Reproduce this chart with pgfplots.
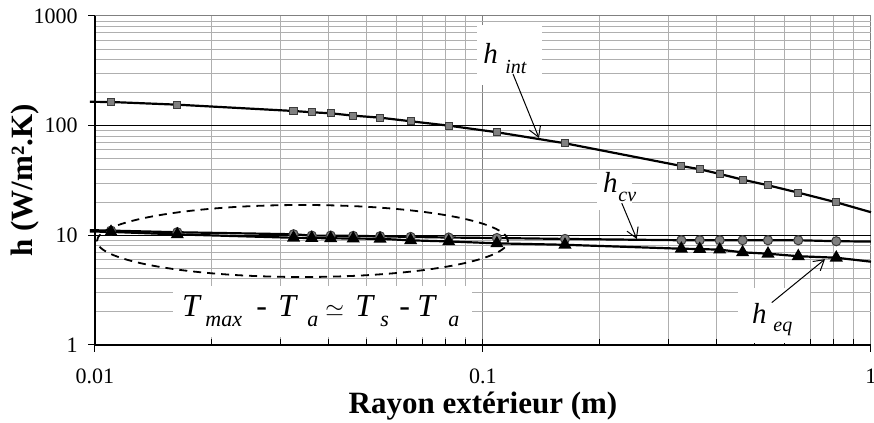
\documentclass[border=0pt]{standalone}
\usepackage{pgfplots}
\usepackage{pgfplotstable}
\pgfplotsset{compat=1.18}
\usepackage{fontspec}
\setmainfont{Liberation Serif}
\usetikzlibrary{arrows.meta}

\definecolor{markgray}{RGB}{128,128,128}
\definecolor{markedge}{RGB}{60,60,60}
\definecolor{majgrid}{RGB}{128,128,128}
\definecolor{mingrid}{RGB}{175,175,175}

\newcommand{\bigit}{\fontsize{16}{16}\selectfont\itshape}
\newcommand{\subit}{\fontsize{11}{11}\selectfont\itshape}
\newcommand{\hit}{\fontsize{14.5}{14.5}\selectfont\itshape}
\newcommand{\hsub}{\fontsize{10}{10}\selectfont\itshape}
\newcommand{\tickfont}{\fontsize{11}{11}\selectfont}

% x, h_int, h_cv, h_eq (first and last rows: ends of the curves, no marker)
\pgfplotstableread{
x       hint    hcv    heq
0.0097  165.0   11.15  10.85
0.011   164.4   11.04  10.75
0.0163  155.4   10.67  10.2
0.0325  136.1   10.23  9.5
0.0362  132.5   9.94   9.45
0.0405  129.7   9.94   9.4
0.0463  123.4   9.88   9.35
0.0543  118.3   9.81   9.3
0.0651  109.7   9.67   9.0
0.0816  100.0   9.55   8.8
0.1086  87.1    9.45   8.45
0.1627  69.1    9.27   8.2
0.3245  42.9    9.02   7.55
0.3619  40.05   9.02   7.5
0.4074  36.3    9.02   7.4
0.4668  32.2    9.02   7.0
0.5427  28.6    9.02   6.8
0.6496  24.5    9.02   6.45
0.8139  20.0    8.84   6.25
1.0     16.25   8.77   5.75
}\hdata

\begin{document}
\begin{tikzpicture}
\useasboundingbox (-47.5pt,-39pt) rectangle (389.5pt,172.5pt);
\begin{axis}[
  scale only axis, width=388pt, height=164.5pt,
  xmode=log, ymode=log,
  xmin=0.01, xmax=1, ymin=1, ymax=1000,
  xtick={0.01,0.1,1}, xticklabels={{\tickfont 0.01},{\tickfont 0.1},{\tickfont 1}},
  ytick={1,10,100,1000}, yticklabels={{\tickfont 1},{\tickfont 10},{\tickfont 100},{\tickfont 1000}},
  grid=both,
  major grid style={majgrid, line width=0.5pt},
  minor grid style={mingrid, line width=0.5pt},
  axis x line*=bottom, axis y line*=left,
  axis line style={black, line width=0.6pt, -},
  tick align=outside,
  major tick length=3.5pt, minor tick length=3pt,
  minor x tick style={yshift=3pt},
  minor y tick style={draw=none},
  tick style={black, line width=0.5pt},
  xticklabel style={anchor=base, yshift=-16pt},
  yticklabel style={anchor=east, inner sep=0pt, xshift=-5pt},
  xlabel={Rayon extérieur (m)},
  ylabel={h (W/m².K)},
  label style={font=\fontsize{15.5}{15.5}\selectfont\bfseries},
  xlabel style={at={(axis description cs:0.5,-0.209)}, anchor=base},
  ylabel style={at={(axis description cs:-0.0902,0.5)}, anchor=center},
  clip=false,
]
  % dark major lines at 10 and 100
  \draw[black, line width=0.6pt] (axis cs:0.01,10) -- (axis cs:1,10);
  \draw[black, line width=0.6pt] (axis cs:0.01,100) -- (axis cs:1,100);

  \addplot[black, line width=1.1pt, mark=square*, mark indices={2,...,19},
    mark size=1.8pt, mark options={fill=markgray, draw=markedge, line width=0.5pt}]
    table[x=x, y=hint] {\hdata};
  \addplot[black, line width=1.1pt, mark=*, mark indices={2,...,19},
    mark size=2.3pt, mark options={fill=markgray, draw=markedge, line width=0.5pt}]
    table[x=x, y=hcv] {\hdata};
  \addplot[black, line width=1.1pt, mark=triangle*, mark indices={2,...,19},
    mark size=2.7pt, mark options={fill=black, draw=black}]
    table[x=x, y=heq] {\hdata};
\end{axis}

% label boxes
\fill[white] (191pt,130pt) rectangle (223.5pt,160pt);
\fill[white] (251pt,67.5pt) rectangle (268.5pt,87.5pt);
\fill[white] (321.5pt,1pt) rectangle (357.5pt,28.5pt);
\fill[white] (39pt,4pt) rectangle (188.5pt,29.5pt);

% h_int
\node[anchor=base west, inner sep=0pt] at (194pt,140.9pt) {\hit h};
\node[anchor=base west, inner sep=0pt] at (205pt,135.8pt) {\hsub int};
\draw[line width=0.5pt, -{Straight Barb[length=5pt,width=6pt]}] (209pt,135.5pt) -- (222pt,103.5pt);

% h_cv
\node[anchor=base west, inner sep=0pt] at (253.9pt,76pt) {\hit h};
\node[anchor=base west, inner sep=0pt] at (261.5pt,71.7pt) {\hsub cv};
\draw[line width=0.5pt, -{Straight Barb[length=5pt,width=6pt]}] (263.4pt,70.9pt) -- (270.9pt,53pt);

% h_eq
\node[anchor=base west, inner sep=0pt] at (328.4pt,10.9pt) {\hit h};
\node[anchor=base west, inner sep=0pt] at (339pt,6.7pt) {\hsub eq};
\draw[line width=0.5pt, -{Straight Barb[length=5pt,width=6pt]}] (338.4pt,21.2pt) -- (365pt,42.9pt);

% ellipse
\draw[line width=0.9pt, dash pattern=on 4pt off 3pt] (103.75pt,52pt) ellipse [x radius=102.75pt, y radius=18pt];

% T_max - T_a ~ T_s - T_a
\node[anchor=base west, inner sep=0pt] at (43.4pt,14.2pt) {\bigit T};
\node[anchor=base west, inner sep=0pt] at (55pt,9.15pt) {\subit max};
\node[anchor=base west, inner sep=0pt] at (80.5pt,14.2pt) {\bigit -};
\node[anchor=base west, inner sep=0pt] at (91.5pt,14.2pt) {\bigit T};
\node[anchor=base west, inner sep=0pt] at (106pt,9.15pt) {\subit a};
\node[anchor=base west, inner sep=0pt] at (115pt,14.2pt) {\fontsize{12}{12}\selectfont$\simeq$};
\node[anchor=base west, inner sep=0pt] at (130pt,14.2pt) {\bigit T};
\node[anchor=base west, inner sep=0pt] at (142.5pt,9.15pt) {\subit s};
\node[anchor=base west, inner sep=0pt] at (152pt,14.2pt) {\bigit -};
\node[anchor=base west, inner sep=0pt] at (161pt,14.2pt) {\bigit T};
\node[anchor=base west, inner sep=0pt] at (176.5pt,9.15pt) {\subit a};
\end{tikzpicture}
\end{document}
